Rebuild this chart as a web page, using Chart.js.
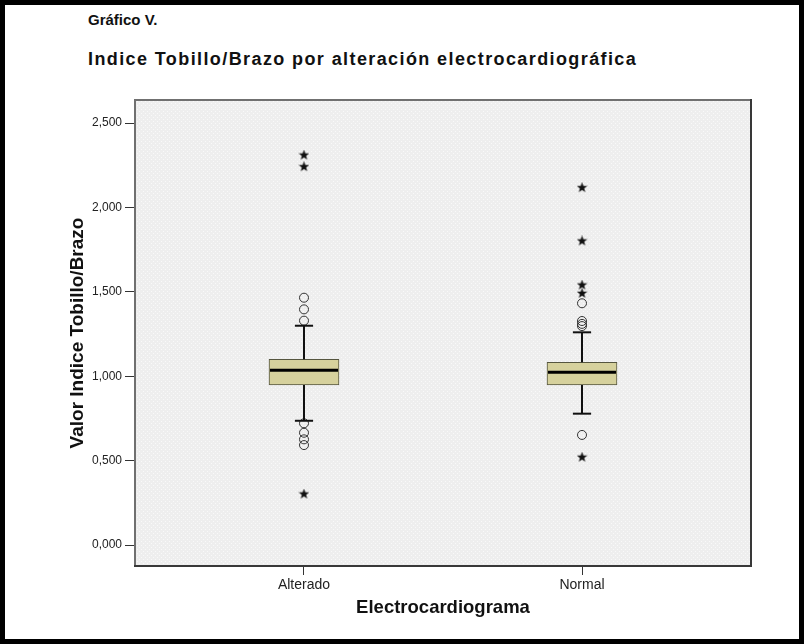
<!DOCTYPE html>
<html><head><meta charset="utf-8">
<script src="https://cdn.jsdelivr.net/npm/chart.js@4.4.1/dist/chart.umd.min.js"></script>
<style>
html,body{margin:0;padding:0;background:#fff;}
#frame{position:absolute;left:0;top:0;width:804px;height:644px;box-sizing:border-box;border:5px solid #000;background:#fff;}
#wrap{position:absolute;left:0;top:0;width:804px;height:644px;}
.t{position:absolute;font-family:'Liberation Sans',Arial,sans-serif;font-weight:bold;color:#111;white-space:nowrap;}
</style></head><body>
<div id="frame"></div>
<div class="t" style="left:88px;top:11px;font-size:15px;">Gráfico V.</div>
<div class="t" style="left:88px;top:49px;font-size:18px;letter-spacing:1.4px;">Indice Tobillo/Brazo por alteración electrocardiográfica</div>
<div id="wrap"><canvas id="c" width="804" height="644"></canvas></div>
<script>
const categories = ['Alterado', 'Normal'];
const q1 = [0.948, 0.948];
const median = [1.035, 1.023];
const q3 = [1.100, 1.082];
const whiskerLow = [0.736, 0.778];
const whiskerHigh = [1.299, 1.260];
const outliersAlterado = [1.465, 1.396, 1.329, 0.721, 0.665, 0.626, 0.592];
const outliersNormal = [1.432, 1.327, 1.310, 1.297, 0.652];
const extremesAlterado = [2.310, 2.241, 0.302];
const extremesNormal = [2.117, 1.801, 1.540, 1.491, 0.520];
const yTickValues = [0, 0.5, 1, 1.5, 2, 2.5];
const yTickLabels = ['0,000', '0,500', '1,000', '1,500', '2,000', '2,500'];

const FAM = "'Liberation Sans', Arial, sans-serif";

function makeStar(size) {
  const c = document.createElement('canvas');
  c.width = size; c.height = size;
  const g = c.getContext('2d');
  g.fillStyle = '#111';
  g.beginPath();
  const cx = size / 2, cy = size / 2, R = size / 2, r = R * 0.42;
  for (let k = 0; k < 10; k++) {
    const ang = -Math.PI / 2 + k * Math.PI / 5;
    const rad = k % 2 ? r : R;
    g.lineTo(cx + rad * Math.cos(ang), cy + rad * Math.sin(ang));
  }
  g.closePath();
  g.fill();
  return c;
}
const starImg = makeStar(11);

function toPoints(groups) {
  const out = [];
  groups.forEach((vals, i) => vals.forEach(v => out.push({ x: i, y: v })));
  return out;
}

let bgPattern = null;
const plotFrame = {
  id: 'plotFrame',
  beforeDatasetsDraw(chart) {
    const { ctx, chartArea: a } = chart;
    if (!bgPattern) {
      const c = document.createElement('canvas');
      c.width = 4; c.height = 4;
      const g = c.getContext('2d');
      g.fillStyle = '#eeeeee'; g.fillRect(0, 0, 4, 4);
      g.fillStyle = '#f9f9f9'; g.fillRect(1, 1, 1, 1); g.fillRect(3, 3, 1, 1);
      bgPattern = ctx.createPattern(c, 'repeat');
    }
    ctx.save();
    ctx.fillStyle = bgPattern;
    ctx.fillRect(a.left, a.top, a.right - a.left, a.bottom - a.top);
    ctx.restore();
  },
  afterDraw(chart) {
    const { ctx, chartArea: a } = chart;
    ctx.save();
    ctx.lineWidth = 2;
    ctx.strokeStyle = '#707070';
    ctx.beginPath();
    ctx.moveTo(a.left + 1, a.bottom); ctx.lineTo(a.left + 1, a.top + 1); ctx.lineTo(a.right, a.top + 1);
    ctx.stroke();
    ctx.strokeStyle = '#383838';
    ctx.beginPath();
    ctx.moveTo(a.right - 1, a.top); ctx.lineTo(a.right - 1, a.bottom - 1); ctx.lineTo(a.left, a.bottom - 1);
    ctx.stroke();
    ctx.restore();
  }
};

const boxWhiskers = {
  id: 'boxWhiskers',
  afterDatasetsDraw(chart) {
    const ctx = chart.ctx, y = chart.scales.y;
    const meta = chart.getDatasetMeta(0);
    categories.forEach((c, i) => {
      const bar = meta.data[i];
      const cx = Math.round(bar.x), half = bar.width / 2, cap = half * 0.26;
      const line = (x1, y1, x2, y2) => { ctx.beginPath(); ctx.moveTo(x1, y1); ctx.lineTo(x2, y2); ctx.stroke(); };
      ctx.save();
      ctx.strokeStyle = '#111';
      ctx.lineWidth = 2;
      const yHi = y.getPixelForValue(whiskerHigh[i]), yLo = y.getPixelForValue(whiskerLow[i]);
      line(cx, y.getPixelForValue(q3[i]), cx, yHi);
      line(cx, y.getPixelForValue(q1[i]), cx, yLo);
      line(cx - cap, yHi, cx + cap, yHi);
      line(cx - cap, yLo, cx + cap, yLo);
      ctx.lineWidth = 3;
      ctx.strokeStyle = '#000';
      const ym = y.getPixelForValue(median[i]);
      line(cx - half + 1, ym, cx + half - 1, ym);
      ctx.restore();
    });
  }
};

new Chart(document.getElementById('c'), {
  type: 'bar',
  data: {
    datasets: [
      {
        type: 'bar', label: 'Caja',
        data: categories.map((c, i) => ({ x: i, y: [q1[i], q3[i]] })),
        backgroundColor: '#d6d19d', borderColor: '#55553f', borderWidth: 1,
        borderSkipped: false, barThickness: 70
      },
      {
        type: 'scatter', label: 'Atípicos',
        data: toPoints([outliersAlterado, outliersNormal]),
        pointStyle: 'circle', pointRadius: 4.5, borderColor: '#333', borderWidth: 1,
        backgroundColor: 'rgba(0,0,0,0)'
      },
      {
        type: 'scatter', label: 'Extremos',
        data: toPoints([extremesAlterado, extremesNormal]),
        pointStyle: starImg, pointRadius: 5
      }
    ]
  },
  options: {
    responsive: false, animation: false, devicePixelRatio: 1,
    layout: { padding: { left: 66, right: 52, top: 99, bottom: 25 } },
    plugins: { legend: { display: false }, tooltip: { enabled: false }, title: { display: false } },
    scales: {
      x: {
        type: 'linear', min: -0.6115, max: 1.6115, offset: false,
        afterBuildTicks: s => { s.ticks = categories.map((c, i) => ({ value: i })); },
        afterFit: s => { s.height = 52; },
        ticks: { callback: v => categories[v], font: { family: FAM, size: 14 }, color: '#222', padding: 2, autoSkip: false, maxRotation: 0 },
        grid: { drawOnChartArea: false, drawTicks: true, tickLength: 8, color: '#333', lineWidth: 1, offset: false },
        border: { display: false },
        title: { display: true, text: 'Electrocardiograma', font: { family: FAM, size: 18.5, weight: 'bold' }, color: '#111', padding: { top: 0, bottom: 0 } }
      },
      y: {
        type: 'linear', min: -0.1303, max: 2.6422,
        afterBuildTicks: s => { s.ticks = yTickValues.map(v => ({ value: v })); },
        afterFit: s => { s.width = 68; },
        ticks: { callback: (v, i) => yTickLabels[i], font: { family: FAM, size: 12 }, color: '#222', padding: 3 },
        grid: { drawOnChartArea: false, drawTicks: true, tickLength: 9, color: '#333', lineWidth: 1 },
        border: { display: false },
        title: { display: true, text: 'Valor Indice Tobillo/Brazo', font: { family: FAM, size: 19, weight: 'bold' }, color: '#111', padding: { top: 0, bottom: 0 } }
      }
    }
  },
  plugins: [plotFrame, boxWhiskers]
});
</script>
</body></html>
